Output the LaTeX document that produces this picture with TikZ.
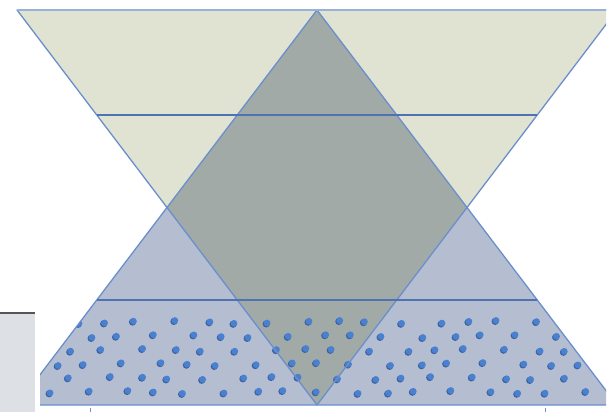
\documentclass[tikz,border=0pt]{standalone}
\definecolor{topfill}{RGB}{224,227,209}
\definecolor{botfill}{RGB}{181,190,208}
\definecolor{midfill}{RGB}{161,170,167}
\definecolor{edgeblue}{RGB}{106,143,204}
\definecolor{bandblue}{RGB}{79,114,178}
\definecolor{dotblue}{RGB}{74,128,208}
\definecolor{dotshade}{RGB}{62,98,160}
\definecolor{boxfill}{RGB}{221,225,230}
\definecolor{boxline}{RGB}{85,85,85}
\begin{document}
\begin{tikzpicture}[x=1pt,y=-1pt,
  edge/.style={draw=edgeblue,line width=1.3pt,line join=round},
  band/.style={draw=bandblue,line width=1.8pt},
  dotmark/.style={fill=dotblue},
  dotshadow/.style={fill=dotshade}]
\useasboundingbox (0,0) rectangle (616,412);
\coordinate (tl) at (17,10);
\coordinate (tr) at (617,10);
\coordinate (tb) at (317,405);
\coordinate (ua) at (317,10);
\coordinate (ul) at (17,405);
\coordinate (ur) at (617,405);
\coordinate (cl) at (167,207.5);
\coordinate (cr) at (467,207.5);
\coordinate (h1l) at (97,115);
\coordinate (h1r) at (537,115);
\coordinate (h2l) at (97,300);
\coordinate (h2r) at (537,300);
\begin{scope}
  \clip (0,0) rectangle (606,408);
  \fill[botfill] (ua)--(ul)--(ur)--cycle;
  \fill[topfill] (tl)--(tr)--(tb)--cycle;
  \fill[midfill] (ua)--(cl)--(tb)--(cr)--cycle;
  \begin{scope}
    \clip (h2l)--(h2r)--(ur)--(ul)--cycle;
    \foreach \k in {0,...,5}{
      \foreach \i in {0,...,18}{
        \pgfmathsetmacro\dx{40+33*\i+16*mod(\k,2)+6*sin(97*\i+53*\k)}
        \pgfmathsetmacro\dy{322+14*\k+1.5*sin(71*\i+29*\k)}
        \fill[dotshadow] ({\dx-0.9},{\dy+0.9}) circle (3.6pt);
        \fill[dotmark] (\dx,\dy) circle (3.4pt);
      }
    }
  \end{scope}
  \draw[edge] (tl)--(tr)--(tb)--cycle;
  \draw[edge] (ua)--(ul)--(ur)--cycle;
  \draw[draw=edgeblue!70,line width=2.2pt] (tl)--(tr);
  \draw[band] (h1l)--(h1r);
  \draw[band] (h2l)--(h2r);
\end{scope}
\fill[white] (0,310) rectangle (40,412);
\fill[boxfill] (0,313) rectangle (35,412);
\draw[boxline,line width=1.5pt] (0,313)--(35,313);
\draw[edgeblue,line width=0.8pt] (90,408)--(90,412);
\draw[edgeblue,line width=0.8pt] (545,408)--(545,412);
\end{tikzpicture}
\end{document}
